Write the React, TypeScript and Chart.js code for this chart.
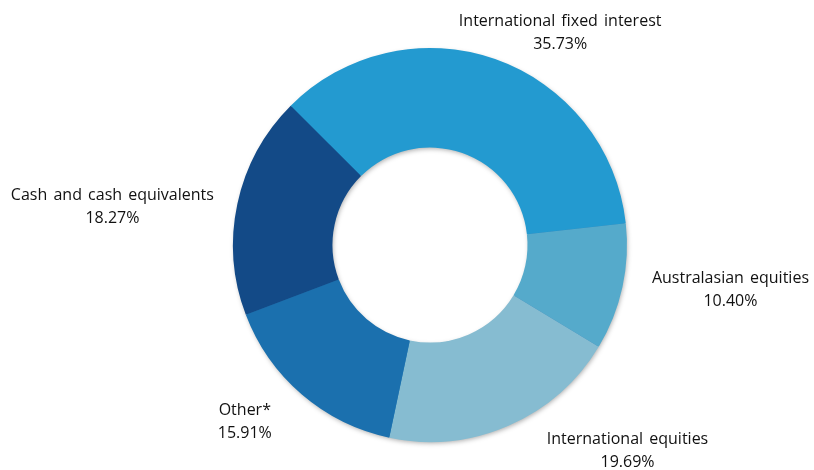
import React, { useEffect, useRef } from "react";
import { Chart, registerables } from "chart.js";

Chart.register(...registerables);

const categories = [
  "International fixed interest",
  "Australasian equities",
  "International equities",
  "Other*",
  "Cash and cash equivalents",
];
const shares = [35.73, 10.4, 19.69, 15.91, 18.27];
const shareLabels = ["35.73%", "10.40%", "19.69%", "15.91%", "18.27%"];
const colors = ["#239AD0", "#55AACB", "#86BCD1", "#1B70AE", "#134A87"];

// label offsets from each slice's outer mid-point (annotation placement only)
const labelNudges: [number, number][] = [
  [65, -26],
  [108, 3],
  [119, 25],
  [-57, 27],
  [-125, 3],
];

const outerLabels = {
  id: "outerLabels",
  afterDatasetsDraw(chart: any, _args: any, opts: any) {
    const ctx = chart.ctx as CanvasRenderingContext2D;
    const meta = chart.getDatasetMeta(0);
    ctx.save();
    ctx.font = opts.font;
    ctx.fillStyle = opts.color;
    ctx.textAlign = "center";
    ctx.textBaseline = "middle";
    try {
      (ctx as any).wordSpacing = opts.wordSpacing;
    } catch (e) {}
    meta.data.forEach((arc: any, i: number) => {
      const p = arc.getProps(["x", "y", "startAngle", "endAngle", "outerRadius"], true);
      const mid = (p.startAngle + p.endAngle) / 2;
      const ax = p.x + p.outerRadius * Math.cos(mid);
      const ay = p.y + p.outerRadius * Math.sin(mid);
      const cx = ax + labelNudges[i][0];
      const cy = ay + labelNudges[i][1];
      const lines = [categories[i], shareLabels[i]];
      const lh = opts.lineHeight;
      lines.forEach((l, j) => {
        ctx.fillText(l, cx, cy + (j - (lines.length - 1) / 2) * lh);
      });
    });
    ctx.restore();
  },
};

// one soft shadow for the whole ring, drawn beneath the slices
const ringShadow = {
  id: "ringShadow",
  beforeDatasetsDraw(chart: any) {
    const meta = chart.getDatasetMeta(0);
    if (!meta.data.length) return;
    const p = meta.data[0].getProps(["x", "y", "innerRadius", "outerRadius"], true);
    const ctx = chart.ctx as CanvasRenderingContext2D;
    ctx.save();
    ctx.shadowColor = "rgba(0,0,0,0.35)";
    ctx.shadowBlur = 5;
    ctx.shadowOffsetX = 1;
    ctx.shadowOffsetY = 2;
    ctx.beginPath();
    ctx.arc(p.x, p.y, p.outerRadius - 1, 0, Math.PI * 2);
    ctx.arc(p.x, p.y, p.innerRadius + 1, 0, Math.PI * 2, true);
    ctx.closePath();
    ctx.fillStyle = "#2a7fb8";
    ctx.fill("evenodd");
    ctx.restore();
  },
};

export default function App() {
  const ref = useRef<HTMLCanvasElement | null>(null);
  useEffect(() => {
    if (!ref.current) return;
    const chart = new Chart(ref.current, {
      type: "doughnut",
      data: {
        labels: categories,
        datasets: [
          {
            data: shares,
            backgroundColor: colors,
            borderWidth: 0,
          },
        ],
      },
      options: {
        responsive: false,
        animation: false,
        rotation: -45,
        cutout: "49.5%",
        layout: { padding: { top: 48, bottom: 28, left: 233, right: 187 } },
        plugins: {
          legend: { display: false },
          tooltip: { enabled: false },
          outerLabels: {
            font: '16px "Open Sans", sans-serif',
            color: "#111111",
            lineHeight: 23,
            wordSpacing: "2px",
          },
        } as any,
      },
      plugins: [ringShadow, outerLabels],
    });
    return () => chart.destroy();
  }, []);
  return (
    <div style={{ position: "fixed", left: 0, top: 0, width: 814, height: 470, background: "#fff" }}>
      <canvas ref={ref} width={814} height={470} style={{ display: "block" }} />
    </div>
  );
}
